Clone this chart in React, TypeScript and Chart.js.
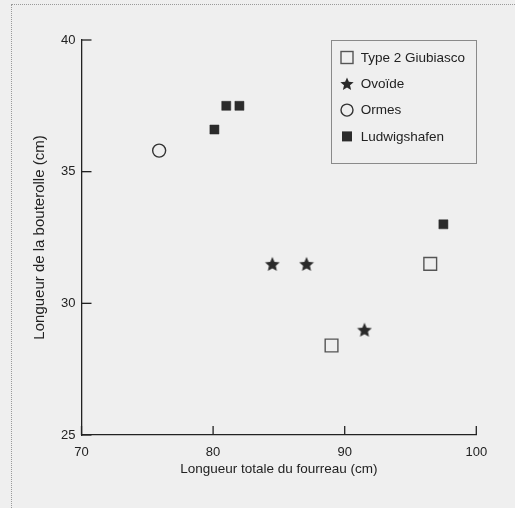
import React, { useEffect, useRef } from "react";
import { Chart, registerables } from "chart.js";

Chart.register(...registerables);

// ---- Data ----
const giubiascoX = [89.0, 96.5];
const giubiascoY = [28.4, 31.5];
const ovoideX = [84.5, 87.1, 91.5];
const ovoideY = [31.5, 31.5, 29.0];
const ormesX = [75.9];
const ormesY = [35.8];
const ludwigshafenX = [80.1, 81.0, 82.0, 97.5];
const ludwigshafenY = [36.6, 37.5, 37.5, 33.0];

const seriesLabels = ["Type 2 Giubiasco", "Ovoïde", "Ormes", "Ludwigshafen"];
const xTitle = "Longueur totale du fourreau (cm)";
const yTitle = "Longueur de la bouterolle (cm)";
const xTickValues = [70, 80, 90, 100];
const yTickValues = [25, 30, 35, 40];

const FONT = '"Liberation Sans", Arial, Helvetica, sans-serif';
const INK = "#222222";

function zip(xs: number[], ys: number[]) {
  return xs.map((x, i) => ({ x, y: ys[i] }));
}

function starPath(ctx: CanvasRenderingContext2D, cx: number, cy: number, ro: number, ri: number) {
  ctx.beginPath();
  for (let i = 0; i < 10; i++) {
    const r = i % 2 === 0 ? ro : ri;
    const a = -Math.PI / 2 + (i * Math.PI) / 5;
    const px = cx + r * Math.cos(a);
    const py = cy + r * Math.sin(a);
    if (i === 0) ctx.moveTo(px, py);
    else ctx.lineTo(px, py);
  }
  ctx.closePath();
}

function makeStar(size: number, color: string) {
  const c = document.createElement("canvas");
  c.width = size;
  c.height = size;
  const ctx = c.getContext("2d")!;
  starPath(ctx, size / 2, size / 2 + 0.8, size / 2 - 0.3, (size / 2) * 0.45);
  ctx.fillStyle = color;
  ctx.fill();
  return c;
}

function drawMarker(ctx: CanvasRenderingContext2D, kind: string, cx: number, cy: number, size: number) {
  ctx.save();
  if (kind === "openSquare") {
    ctx.strokeStyle = "#555555";
    ctx.lineWidth = 1.4;
    ctx.strokeRect(cx - size / 2, cy - size / 2, size, size);
  } else if (kind === "star") {
    starPath(ctx, cx, cy + 0.6, size / 2, (size / 2) * 0.45);
    ctx.fillStyle = "#2a2a2a";
    ctx.fill();
  } else if (kind === "openCircle") {
    ctx.beginPath();
    ctx.arc(cx, cy, size / 2, 0, Math.PI * 2);
    ctx.strokeStyle = "#333333";
    ctx.lineWidth = 1.4;
    ctx.stroke();
  } else if (kind === "filledSquare") {
    ctx.fillStyle = "#2b2b2b";
    ctx.fillRect(cx - size / 2, cy - size / 2, size, size);
  }
  ctx.restore();
}

const legendKinds = ["openSquare", "star", "openCircle", "filledSquare"];
const legendSizes = [12, 14, 12, 10];

const boxLegend = {
  id: "boxLegend",
  afterDraw(chart: any) {
    const { ctx, chartArea } = chart;
    const w = 145;
    const h = 123;
    const x0 = chartArea.right - w;
    const y0 = chartArea.top;
    ctx.save();
    ctx.strokeStyle = "#8a8a8a";
    ctx.lineWidth = 1;
    ctx.strokeRect(Math.round(x0) + 0.5, Math.round(y0) + 0.5, w, h);
    chart.data.datasets.forEach((ds: any, i: number) => {
      const cy = y0 + 17.5 + i * 26.3;
      const cx = x0 + 15.7;
      drawMarker(ctx, legendKinds[i], cx, cy, legendSizes[i]);
      ctx.fillStyle = INK;
      ctx.font = `13.5px ${FONT}`;
      ctx.textBaseline = "middle";
      ctx.textAlign = "left";
      ctx.fillText(ds.label, x0 + 29.5, cy + 0.5);
    });
    ctx.restore();
  },
};

const innerTicks = {
  id: "innerTicks",
  afterDraw(chart: any) {
    const { ctx, chartArea } = chart;
    const xs = chart.scales.x;
    const ys = chart.scales.y;
    ctx.save();
    ctx.strokeStyle = INK;
    ctx.lineWidth = 1.3;
    xs.ticks.forEach((t: any) => {
      const px = xs.getPixelForValue(t.value);
      ctx.beginPath();
      ctx.moveTo(px, chartArea.bottom);
      ctx.lineTo(px, chartArea.bottom - 9);
      ctx.stroke();
    });
    ys.ticks.forEach((t: any) => {
      const py = ys.getPixelForValue(t.value);
      ctx.beginPath();
      ctx.moveTo(chartArea.left, py);
      ctx.lineTo(chartArea.left + 10, py);
      ctx.stroke();
    });
    ctx.restore();
  },
};

export default function App() {
  const ref = useRef<HTMLCanvasElement | null>(null);

  useEffect(() => {
    if (!ref.current) return;
    const star = makeStar(16, "#2a2a2a");
    const chart = new Chart(ref.current, {
      type: "scatter",
      data: {
        datasets: [
          {
            label: seriesLabels[0],
            data: zip(giubiascoX, giubiascoY),
            pointStyle: "rect",
            pointRadius: 9,
            borderColor: "#555555",
            borderWidth: 1.4,
            backgroundColor: "rgba(0,0,0,0)",
          },
          {
            label: seriesLabels[1],
            data: zip(ovoideX, ovoideY),
            pointStyle: star as any,
            pointRadius: 8,
            borderWidth: 0,
            backgroundColor: "#2a2a2a",
          },
          {
            label: seriesLabels[2],
            data: zip(ormesX, ormesY),
            pointStyle: "circle",
            pointRadius: 6.5,
            borderColor: "#333333",
            borderWidth: 1.4,
            backgroundColor: "rgba(0,0,0,0)",
          },
          {
            label: seriesLabels[3],
            data: zip(ludwigshafenX, ludwigshafenY),
            pointStyle: "rect",
            pointRadius: 6.4,
            borderColor: "#2b2b2b",
            borderWidth: 0.5,
            backgroundColor: "#2b2b2b",
          },
        ],
      },
      options: {
        responsive: false,
        animation: false,
        events: [],
        layout: { padding: { top: 40, right: 38.7, left: 0, bottom: 0 } },
        plugins: {
          legend: { display: false },
          tooltip: { enabled: false },
        },
        scales: {
          x: {
            type: "linear",
            min: xTickValues[0],
            max: xTickValues[xTickValues.length - 1],
            afterBuildTicks: (s: any) => {
              s.ticks = xTickValues.map((v) => ({ value: v }));
            },
            afterFit: (s: any) => {
              s.height = 73;
            },
            grid: { drawOnChartArea: false, drawTicks: false },
            border: { display: true, color: INK, width: 1.3 },
            ticks: {
              padding: 10,
              color: INK,
              font: { family: FONT, size: 13 },
            },
            title: {
              display: true,
              text: xTitle,
              color: INK,
              font: { family: FONT, size: 13.5 },
              padding: { top: 0, bottom: 30.4 },
            },
          },
          y: {
            type: "linear",
            min: yTickValues[0],
            max: yTickValues[yTickValues.length - 1],
            afterBuildTicks: (s: any) => {
              s.ticks = yTickValues.map((v) => ({ value: v }));
            },
            afterFit: (s: any) => {
              s.width = 81.5;
            },
            grid: { drawOnChartArea: false, drawTicks: false },
            border: { display: true, color: INK, width: 1.3 },
            ticks: {
              padding: 6,
              color: INK,
              font: { family: FONT, size: 13 },
            },
            title: {
              display: true,
              text: yTitle,
              color: INK,
              font: { family: FONT, size: 15 },
              padding: { top: 31, bottom: 0 },
            },
          },
        },
      },
      plugins: [innerTicks, boxLegend],
    } as any);
    return () => chart.destroy();
  }, []);

  return (
    <div
      style={{
        position: "fixed",
        left: 0,
        top: 0,
        width: 515,
        height: 508,
        background: "#efefef",
        overflow: "hidden",
      }}
    >
      <div
        style={{
          position: "absolute",
          left: 11,
          top: 4,
          right: -4,
          bottom: -4,
          borderLeft: "1px dotted #9a9a9a",
          borderTop: "1px dotted #9a9a9a",
        }}
      />
      <canvas
        ref={ref}
        width={515}
        height={508}
        style={{ position: "absolute", left: 0, top: 0 }}
      />
    </div>
  );
}
